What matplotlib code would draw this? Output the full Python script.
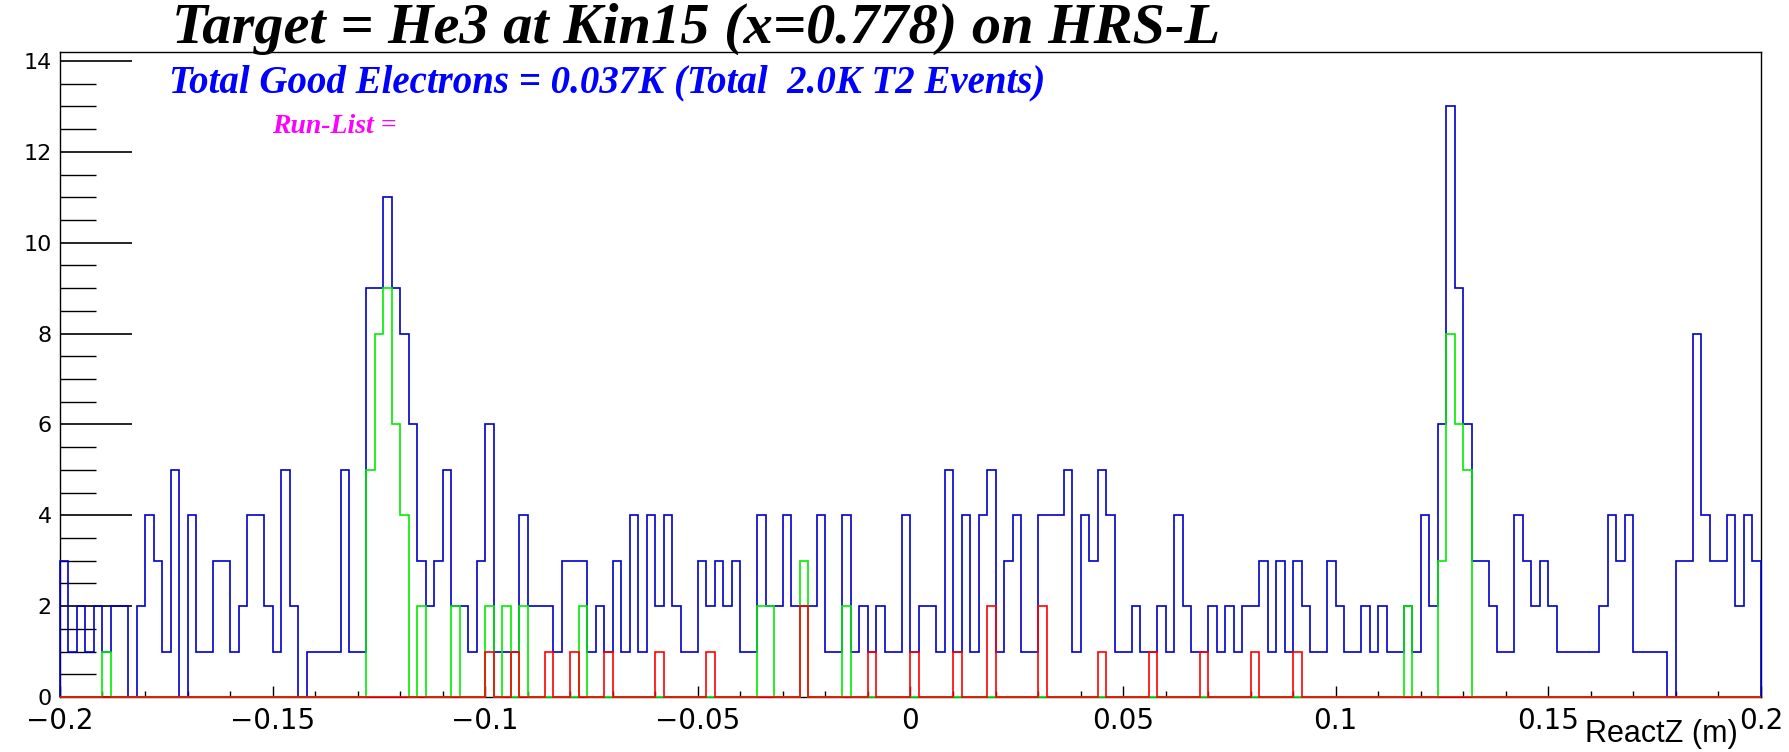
import numpy as np
import matplotlib.pyplot as plt

# ReactZ histogram, 200 bins from -0.2 to 0.2 m
z_min = -0.2
z_max = 0.2
n_bins = 200

all_counts = [
    3, 1, 2, 1, 2, 1, 2, 2, 0, 2, 4, 3, 1, 5, 0, 4, 1, 1, 3, 3,
    1, 2, 4, 4, 2, 1, 5, 2, 0, 1, 1, 1, 1, 5, 1, 1, 9, 9, 11, 9,
    8, 6, 3, 2, 3, 5, 2, 2, 1, 3, 6, 1, 1, 1, 4, 2, 2, 2, 1, 3,
    3, 3, 1, 2, 1, 3, 1, 4, 1, 4, 2, 4, 2, 1, 1, 3, 2, 3, 2, 3,
    1, 1, 4, 2, 2, 4, 2, 2, 2, 4, 1, 1, 4, 1, 2, 1, 2, 1, 1, 4,
    1, 2, 2, 1, 5, 1, 4, 1, 4, 5, 1, 3, 4, 1, 1, 4, 4, 4, 5, 1,
    4, 3, 5, 4, 1, 1, 2, 1, 1, 2, 1, 4, 2, 1, 1, 2, 1, 2, 1, 2,
    2, 3, 1, 3, 1, 3, 2, 1, 1, 3, 2, 1, 1, 2, 1, 2, 1, 1, 2, 1,
    4, 2, 6, 13, 9, 6, 3, 3, 2, 1, 1, 4, 3, 2, 3, 2, 1, 1, 1, 1,
    1, 2, 4, 3, 4, 1, 1, 1, 1, 0, 3, 3, 8, 4, 3, 3, 4, 2, 4, 3,
]

cut_counts = [0] * n_bins
for b, v in [(5, 1), (36, 5), (37, 8), (38, 9), (39, 6), (40, 4), (42, 2),
             (46, 2), (50, 2), (52, 2), (54, 2), (61, 2), (82, 2), (83, 2),
             (87, 3), (92, 2), (158, 2), (162, 3), (163, 8), (164, 6), (165, 5)]:
    cut_counts[b] = v

red_counts = [0] * n_bins
for b, v in [(50, 1), (53, 1), (57, 1), (60, 1), (64, 1), (70, 1), (76, 1),
             (87, 2), (95, 1), (100, 1), (105, 1), (109, 2), (115, 2), (122, 1),
             (128, 1), (134, 1), (140, 1), (145, 1)]:
    red_counts[b] = v

edges = np.linspace(z_min, z_max, n_bins + 1)

fig = plt.figure(figsize=(17.9, 7.52), dpi=100)
ax = fig.add_axes([0.0335, 0.0731, 0.9503, 0.8578])

ax.stairs(all_counts, edges, color='#0000cc', lw=1.2, zorder=3, clip_on=False)
ax.stairs(cut_counts, edges, color='#00ee00', lw=1.2, zorder=3, clip_on=False)
ax.stairs(red_counts, edges, color='#ff0000', lw=1.2, zorder=3, clip_on=False)

ax.set_xlim(z_min, z_max)
ax.set_ylim(0, 14.2)
ax.set_xticks([-0.2, -0.15, -0.1, -0.05, 0, 0.05, 0.1, 0.15, 0.2])
ax.set_xticklabels(['\u22120.2', '\u22120.15', '\u22120.1', '\u22120.05', '0',
                    '0.05', '0.1', '0.15', '0.2'])
ax.set_xticks(np.arange(-0.2, 0.2001, 0.01), minor=True)
ax.set_yticks(range(0, 15, 2))
ax.set_yticks(np.arange(0, 14.2, 0.5), minor=True)
ax.tick_params(axis='y', which='major', direction='in', length=52, width=1.2,
               labelsize=16, pad=6)
ax.tick_params(axis='y', which='minor', direction='in', length=26, width=1.0)
ax.tick_params(axis='x', which='major', direction='in', length=8, width=1.0,
               labelsize=20, pad=7)
ax.tick_params(axis='x', which='minor', direction='in', length=4, width=1.0)
for s in ax.spines.values():
    s.set_linewidth(1.0)

fig.text(0.096, 0.961, 'Target = He3 at Kin15 (x=0.778) on HRS-L',
         family='Liberation Serif', weight='bold', style='italic',
         fontsize=42, va='center', ha='left')
ax.text(0.064, 0.952, 'Total Good Electrons = 0.037K (Total  2.0K T2 Events)',
        transform=ax.transAxes, family='Liberation Serif', weight='bold',
        style='italic', fontsize=28, color='#0000ff', va='center', ha='left')
ax.text(0.1246, 0.885, 'Run-List =', transform=ax.transAxes,
        family='Liberation Serif', weight='bold', style='italic',
        fontsize=20, color='#ff00ff', va='center', ha='left')
fig.text(0.971, 0.004, 'ReactZ (m)', family='Liberation Sans', fontsize=22,
         ha='right', va='bottom')

fig.savefig('out.png', dpi=100)
